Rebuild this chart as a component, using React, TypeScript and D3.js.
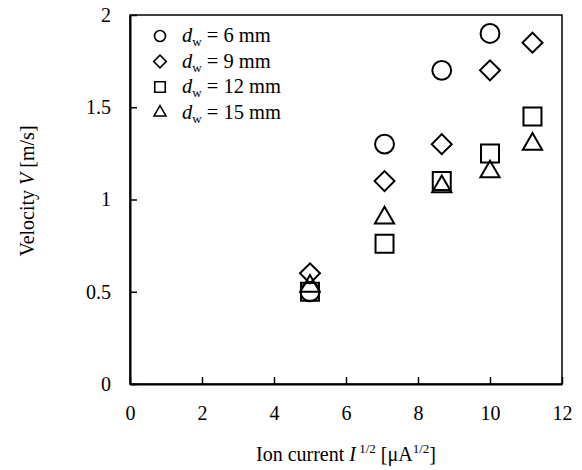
import React, { useRef, useEffect } from 'react';
import * as d3 from 'd3';

// sqrt of ion current [uA^1/2]
const currents = [5, 7.07, 8.66, 10, 11.18];
const seriesNames = ['6 mm', '9 mm', '12 mm', '15 mm'];
const v6 = [0.5, 1.3, 1.7, 1.9, null];
const v9 = [0.6, 1.1, 1.3, 1.7, 1.85];
const v12 = [0.5, 0.76, 1.1, 1.25, 1.45];
const v15 = [0.53, 0.9, 1.07, 1.15, 1.3];
const xTicks = [0, 2, 4, 6, 8, 10, 12];
const yTicks = [0, 0.5, 1, 1.5, 2];

const FONT = '"Liberation Serif", "Times New Roman", serif';

const App = () => {
  const chartRef = useRef<SVGSVGElement>(null);

  useEffect(() => {
    const W = 582, H = 470;
    const margin = { top: 15, right: 20, bottom: 86, left: 130 };
    const width = W - margin.left - margin.right;
    const height = H - margin.top - margin.bottom;

    const root = d3.select(chartRef.current);
    root.selectAll('*').remove();
    root.attr('width', W).attr('height', H);

    const svg = root.append('g').attr('transform', `translate(${margin.left},${margin.top})`);

    const x = d3.scaleLinear().domain([0, 12]).range([0, width]);
    const y = d3.scaleLinear().domain([0, 2]).range([height, 0]);

    // frame
    svg.append('rect')
      .attr('x', 0).attr('y', 0).attr('width', width).attr('height', height)
      .attr('fill', 'none').attr('stroke', '#000').attr('stroke-width', 1.5);

    // ticks pointing inward
    const xAxis = svg.append('g')
      .attr('transform', `translate(0,${height})`)
      .call(d3.axisBottom(x).tickValues(xTicks).tickSizeInner(-7).tickSizeOuter(0).tickPadding(22).tickFormat(d3.format('d')));
    const yAxis = svg.append('g')
      .call(d3.axisLeft(y).tickValues(yTicks).tickSizeInner(-7).tickSizeOuter(0).tickPadding(19).tickFormat(d => String(d)));
    [xAxis, yAxis].forEach(a => {
      a.select('.domain').attr('stroke-width', 2);
      a.selectAll('line').attr('stroke-width', 1.5);
      a.selectAll('text').attr('font-family', FONT).attr('font-size', 20).attr('fill', '#000');
    });

    const symbols = [
      { type: d3.symbolCircle, size: 280, rot: 0, lsize: 95 },
      { type: d3.symbolSquare, size: 200, rot: 45, lsize: 80 },
      { type: d3.symbolSquare, size: 324, rot: 0, lsize: 110 },
      { type: d3.symbolTriangle, size: 160, rot: 0, lsize: 62 },
    ];
    const series = [v6, v9, v12, v15];

    series.forEach((vals, i) => {
      const s = symbols[i];
      const path = d3.symbol().type(s.type).size(s.size);
      svg.append('g').selectAll('path')
        .data(currents.map((c, j) => ({ c, v: vals[j] })).filter(d => d.v != null))
        .enter()
        .append('path')
        .attr('d', path)
        .attr('transform', d => `translate(${x(d.c)},${y(d.v as number)}) rotate(${s.rot})`)
        .attr('fill', 'none')
        .attr('stroke', '#000')
        .attr('stroke-width', 2);
    });

    // legend
    const legend = svg.append('g');
    seriesNames.forEach((name, i) => {
      const s = symbols[i];
      const cy = 21 + i * 25.5;
      legend.append('path')
        .attr('d', d3.symbol().type(s.type).size(s.lsize))
        .attr('transform', `translate(30,${cy}) rotate(${s.rot})`)
        .attr('fill', 'none').attr('stroke', '#000').attr('stroke-width', 1.6);
      const t = legend.append('text')
        .attr('x', 52).attr('y', cy + 6)
        .attr('font-family', FONT).attr('font-size', 20.5);
      t.append('tspan').attr('font-style', 'italic').text('d');
      t.append('tspan').attr('font-size', 13).attr('dy', 4).text('w');
      t.append('tspan').attr('dy', -4).text(` = ${name}`);
    });

    // y label
    const yl = root.append('text')
      .attr('transform', `translate(34,${margin.top + 176}) rotate(-90)`)
      .attr('text-anchor', 'middle')
      .attr('font-family', FONT).attr('font-size', 20);
    yl.append('tspan').text('Velocity ');
    yl.append('tspan').attr('font-style', 'italic').text('V');
    yl.append('tspan').text(' [m/s]');

    // x label
    const xl = root.append('text')
      .attr('x', margin.left + width / 2).attr('y', 461)
      .attr('text-anchor', 'middle')
      .attr('font-family', FONT).attr('font-size', 20);
    xl.append('tspan').text('Ion current ');
    xl.append('tspan').attr('font-style', 'italic').text('I');
    xl.append('tspan').attr('font-size', 13).attr('dy', -8).text('\u00a01/2');
    xl.append('tspan').attr('dy', 8).text(' [\u03bcA');
    xl.append('tspan').attr('font-size', 13).attr('dy', -8).text('1/2');
    xl.append('tspan').attr('dy', 8).text(']');
  }, []);

  return (
    <div style={{ position: 'absolute', left: 0, top: 0, background: '#fff' }}>
      <svg ref={chartRef} style={{ display: 'block' }}></svg>
    </div>
  );
};

export default App;
